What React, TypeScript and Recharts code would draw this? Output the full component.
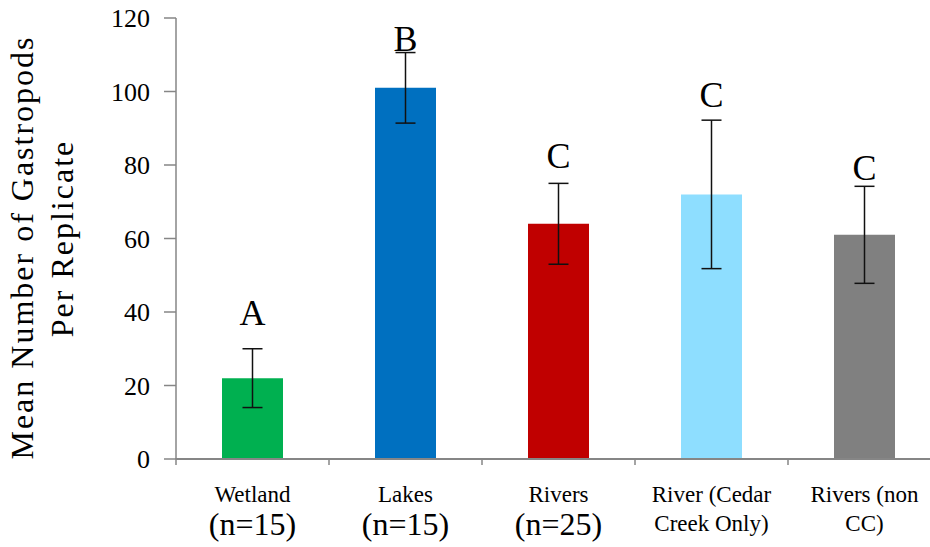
import React from "react";
import {
  ComposedChart,
  Bar,
  Cell,
  ErrorBar,
  Line,
  XAxis,
  YAxis,
  Label,
} from "recharts";

const categories = ["Wetland", "Lakes", "Rivers", "River (Cedar Creek Only)", "Rivers (non CC)"];
const labelLine1 = ["Wetland", "Lakes", "Rivers", "River (Cedar", "Rivers (non"];
const labelLine2 = ["(n=15)", "(n=15)", "(n=25)", "Creek Only)", "CC)"];
const meanValues = [22, 101, 64, 72, 61];
const errorValues = [8, 9.6, 11, 20.2, 13.2];
const letters = ["A", "B", "C", "C", "C"];
const letterLevels = [36.5, 111, 79.3, 95.7, 76];
const barColors = ["#00B050", "#0070C0", "#C00000", "#8EDEFF", "#808080"];
const yTicks = [0, 20, 40, 60, 80, 100, 120];

const data = categories.map((c, i) => ({
  name: c,
  mean: meanValues[i],
  err: errorValues[i],
  letter: letters[i],
  letterLevel: letterLevels[i],
  idx: i,
}));

const FONT = "'Liberation Serif', 'Times New Roman', serif";
const AXIS = "#868686";

const XTick = (props: any) => {
  const { x, y, payload, index } = props;
  const i = typeof index === "number" ? index : payload.index;
  const half = payload.offset || 0;
  const l2 = labelLine2[i];
  const big = l2.startsWith("(n=");
  return (
    <g>
      <line x1={x - half} x2={x - half} y1={y - 9} y2={y - 2} stroke={AXIS} strokeWidth={1.5} />
      <text x={x} y={y + 35} textAnchor="middle" fontFamily={FONT} fontSize={23} fill="#000">
        {labelLine1[i]}
      </text>
      <text
        x={x}
        y={big ? y + 68 : y + 64}
        textAnchor="middle"
        fontFamily={FONT}
        fontSize={big ? 32 : 23}
        fill="#000"
      >
        {l2}
      </text>
    </g>
  );
};

const LetterDot = (props: any) => {
  const { cx, cy, payload } = props;
  if (cx == null || cy == null) return <g />;
  return (
    <text key={`l-${payload.idx}`} x={cx} y={cy} textAnchor="middle" fontFamily={FONT} fontSize={36} fill="#000">
      {payload.letter}
    </text>
  );
};

const YLabel = (props: any) => {
  const vb = props.viewBox || { x: 0, y: 18, width: 176, height: 441 };
  const cy = vb.y + vb.height / 2;
  const x1 = vb.x + 33;
  const x2 = vb.x + 73;
  return (
    <g>
      <text
        x={x1}
        y={cy + 9}
        transform={`rotate(-90, ${x1}, ${cy + 9})`}
        textAnchor="middle"
        fontFamily={FONT}
        fontSize={32}
        letterSpacing={2}
        fill="#000"
      >
        Mean Number of Gastropods
      </text>
      <text
        x={x2}
        y={cy}
        transform={`rotate(-90, ${x2}, ${cy})`}
        textAnchor="middle"
        fontFamily={FONT}
        fontSize={32}
        letterSpacing={2}
        fill="#000"
      >
        Per Replicate
      </text>
    </g>
  );
};

export default function App() {
  return (
    <div
      style={{
        position: "absolute",
        left: 0,
        top: 0,
        width: 930,
        height: 547,
        overflow: "hidden",
        background: "#fff",
      }}
    >
      <ComposedChart
        width={950}
        height={547}
        data={data}
        margin={{ top: 18, right: 9, bottom: 0, left: 0 }}
      >
        <XAxis
          dataKey="name"
          type="category"
          height={88}
          axisLine={{ stroke: AXIS, strokeWidth: 2 }}
          tickLine={false}
          interval={0}
          tick={<XTick />}
        />
        <YAxis
          type="number"
          domain={[0, 120]}
          ticks={yTicks}
          width={176}
          tickSize={12}
          tickMargin={14}
          axisLine={{ stroke: AXIS, strokeWidth: 1.5 }}
          tickLine={{ stroke: AXIS, strokeWidth: 1.5 }}
          tick={{ fontFamily: FONT, fontSize: 26, fill: "#000" }}
          label={<Label content={<YLabel />} />}
        />
        <Bar dataKey="mean" barSize={61} isAnimationActive={false}>
          {data.map((d, i) => (
            <Cell key={d.name} fill={barColors[i]} />
          ))}
          <ErrorBar dataKey="err" width={10} strokeWidth={1.5} stroke="#111" direction="y" />
        </Bar>
        <Line
          dataKey="letterLevel"
          stroke="none"
          isAnimationActive={false}
          dot={<LetterDot />}
          activeDot={false}
          legendType="none"
        />
      </ComposedChart>
    </div>
  );
}
